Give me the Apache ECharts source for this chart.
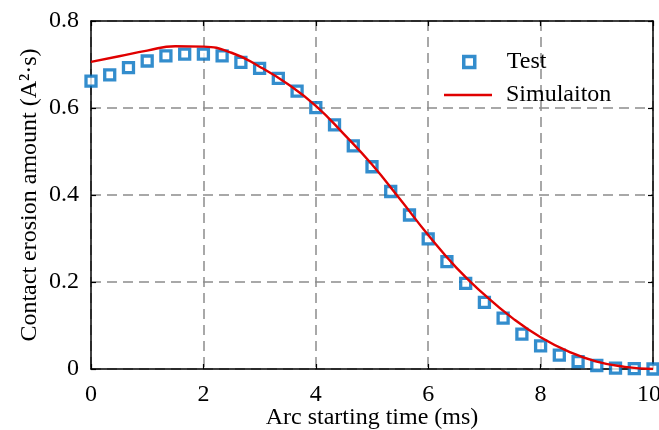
<!DOCTYPE html>
<html>
<head>
<meta charset="utf-8">
<script src="https://cdn.jsdelivr.net/npm/echarts@6/dist/echarts.min.js"></script>
<style>
  html, body { margin: 0; padding: 0; background: #fff; }
  #chart { width: 659px; height: 430px; }
</style>
</head>
<body>
<div id="chart"></div>
<script>
// Measured erosion (Test) sampled every 1/3 ms
const testTime = [0, 0.333, 0.667, 1, 1.333, 1.667, 2, 2.333, 2.667, 3, 3.333, 3.667, 4,
  4.333, 4.667, 5, 5.333, 5.667, 6, 6.333, 6.667, 7, 7.333, 7.667, 8,
  8.333, 8.667, 9, 9.333, 9.667, 10];
const testValues = [0.662, 0.676, 0.693, 0.708, 0.720, 0.724, 0.724, 0.720, 0.705, 0.691,
  0.668, 0.639, 0.601, 0.561, 0.513, 0.465, 0.408, 0.354, 0.299, 0.247, 0.197,
  0.153, 0.117, 0.080, 0.053, 0.032, 0.017, 0.008, 0.002, 0.001, 0.000];

// Simulated curve
const simTime = [0, 0.5, 1, 1.5, 2, 2.5, 3, 3.5, 4, 4.5, 5, 5.5, 6, 6.5, 7, 7.5, 8, 8.5, 9, 9.5, 10];
const simValues = [0.706, 0.719, 0.732, 0.742, 0.741, 0.727, 0.695, 0.655, 0.605, 0.540,
  0.470, 0.390, 0.308, 0.233, 0.171, 0.117, 0.073, 0.040, 0.017, 0.005, 0.000];

const xTicks = [0, 2, 4, 6, 8, 10];
const yTicks = [0, 0.2, 0.4, 0.6, 0.8];

const FONT = '"Liberation Serif", "Times New Roman", serif';
const BLUE = '#0070c0';
const RED = '#e00000';
const gridLine = { show: true, lineStyle: { color: '#8c8c8c', width: 1.5, type: [10, 6] } };
const frameLine = { show: true, onZero: false, lineStyle: { color: '#000', width: 1.5 } };
const tick = { show: true, inside: true, length: 5, lineStyle: { color: '#000', width: 1.2 } };
const legendText = (padLeft) => ({ fontFamily: FONT, fontSize: 24, color: '#000', padding: [0, 0, 0, padLeft] });
const lastX = xTicks[xTicks.length - 1];

const chart = echarts.init(document.getElementById('chart'), null, { renderer: 'canvas' });
chart.setOption({
  animation: false,
  backgroundColor: '#fff',
  grid: { left: 91, right: 6, top: 21, bottom: 61, containLabel: false, outerBoundsMode: 'none' },
  legend: [{
    left: 462, top: 50, orient: 'vertical', padding: 0,
    itemWidth: 11, itemHeight: 11,
    itemStyle: { color: '#fff', borderColor: BLUE, borderWidth: 3.5 },
    textStyle: legendText(27),
    data: [{ name: 'Test', icon: 'rect' }]
  }, {
    left: 444, top: 83, orient: 'vertical', padding: 0,
    itemWidth: 48, itemHeight: 2.4,
    textStyle: legendText(9),
    data: [{ name: 'Simulaiton', icon: 'rect' }]
  }],
  xAxis: [{
    type: 'value', min: xTicks[0], max: lastX, interval: 2,
    name: 'Arc starting time (ms)', nameLocation: 'middle', nameGap: 37, nameMoveOverlap: false,
    nameTextStyle: { fontFamily: FONT, fontSize: 24, color: '#000' },
    axisLine: frameLine, axisTick: tick,
    axisLabel: {
      fontFamily: FONT, fontSize: 24, color: '#000', margin: 14,
      formatter: v => (v === lastX ? '{end|' + v + '}' : String(v)),
      rich: { end: { fontFamily: FONT, fontSize: 24, color: '#000', padding: [0, 8, 0, 0] } }
    },
    splitLine: gridLine
  }, {
    type: 'value', position: 'top', min: xTicks[0], max: lastX, interval: 2,
    axisLine: frameLine, axisTick: tick, axisLabel: { show: false }, splitLine: { show: false }
  }],
  yAxis: [{
    type: 'value', min: yTicks[0], max: yTicks[yTicks.length - 1], interval: 0.2,
    name: 'Contact erosion amount (A²·s)', nameLocation: 'middle', nameGap: 49, nameMoveOverlap: false,
    nameTextStyle: { fontFamily: FONT, fontSize: 24, color: '#000' },
    axisLine: frameLine, axisTick: tick,
    axisLabel: { fontFamily: FONT, fontSize: 24, color: '#000', margin: 12,
      formatter: v => (v === 0 ? '0' : v.toFixed(1)) },
    splitLine: gridLine
  }, {
    type: 'value', position: 'right', min: yTicks[0], max: yTicks[yTicks.length - 1], interval: 0.2,
    axisLine: frameLine, axisTick: tick, axisLabel: { show: false }, splitLine: { show: false }
  }],
  series: [{
    name: 'Test', type: 'scatter', clip: false,
    symbol: 'rect', symbolSize: 10,
    itemStyle: { color: '#fff', borderColor: BLUE, borderWidth: 3.3 },
    data: testTime.map((t, i) => [t, testValues[i]]),
    z: 3
  }, {
    name: 'Simulaiton', type: 'line', smooth: 0.5, symbol: 'none',
    lineStyle: { color: RED, width: 2.4 },
    itemStyle: { color: RED },
    data: simTime.map((t, i) => [t, simValues[i]]),
    z: 4
  }]
});
</script>
</body>
</html>
